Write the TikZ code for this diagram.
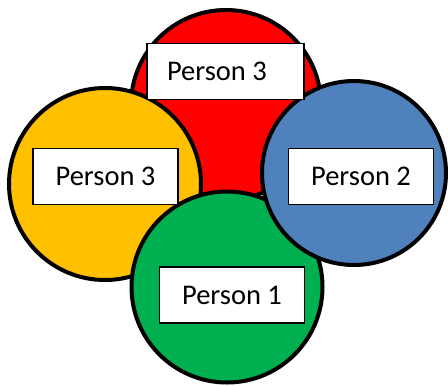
\documentclass[tikz,border=0pt]{standalone}
\usepackage{fontspec}
\setmainfont{Carlito}
\usetikzlibrary{positioning}
\definecolor{Red}{HTML}{FF0000}
\definecolor{Yellow}{HTML}{FFC000}
\definecolor{Green}{HTML}{00B050}
\definecolor{Blue}{HTML}{4F81BD}
\tikzset{
  disc/.style={circle,draw=black,line width=2pt,inner sep=0pt},
  tag/.style={draw=black,fill=white,line width=0.9pt,minimum width=72.5pt,
    minimum height=28pt,inner sep=0pt,font=\fontsize{14.25}{17}\selectfont},
}
\begin{document}
\begin{tikzpicture}[x=0.5pt,y=-0.5pt]
      \useasboundingbox (0,0) rectangle (448,385);
      \node[disc,fill=Red,minimum size=95pt] (red) at (226,105) {};
      \node[disc,fill=Yellow,minimum size=96pt] (yellow) at (105,184) {};
      \node[disc,fill=Green,minimum size=95.5pt] (green) at (227,287) {};
      \node[disc,fill=Blue,minimum size=92pt] (blue) at (354,173) {};
      \node[tag,minimum width=0pt,inner xsep=10pt] (tagred) at (225.5,71.5) {\makebox[58.5pt][l]{Person 3}};
      \node[tag] (tagyellow) at (105.5,176.5) {Person 3};
      \node[tag] (tagblue) at (361,176.5) {Person 2};
      \node[tag] (taggreen) at (232,295) {Person 1};
    \end{tikzpicture}
\end{document}
